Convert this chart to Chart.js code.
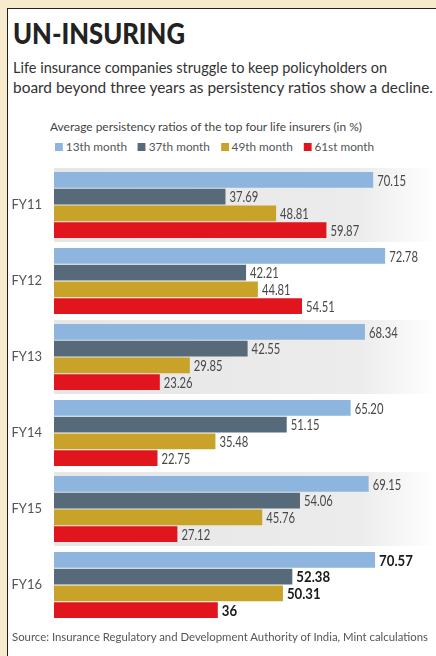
<!DOCTYPE html>
<html>
<head>
<meta charset="utf-8">
<script src="https://cdn.jsdelivr.net/npm/chart.js@4.4.1/dist/chart.umd.min.js"></script>
<style>
  body { margin: 0; width: 436px; height: 656px; background: #f6ebcd; position: relative; overflow: hidden;
         font-family: Lato, 'DejaVu Sans Condensed', sans-serif; }
  .panel { position: absolute; left: 7px; top: 8px; right: 0; bottom: 0; background: #fff;
           border-top: 1px solid #222; border-left: 1px solid #222; }
  .fit { position: absolute; white-space: nowrap; transform-origin: 0 0; line-height: 1; }
  #title { left: 13px; top: 19px; font-size: 28px; font-weight: 900; color: #222; }
  #sub1 { left: 13px; top: 59px; font-size: 16px; color: #333; }
  #sub2 { left: 13px; top: 79px; font-size: 16px; color: #333; }
  #cap { left: 50px; top: 121px; font-size: 12px; color: #444; }
  #legend { left: 55px; top: 141px; font-size: 12px; color: #555; }
  #legend span { display: inline-block; margin-right: 11px; }
  #legend i { display: inline-block; width: 8px; height: 8px; margin-right: 3px; vertical-align: 0px; }
  #src { left: 12px; top: 631px; font-size: 11.5px; color: #555; }
  canvas { position: absolute; left: 0; top: 155px; }
</style>
</head>
<body>
<div class="panel"></div>
<div class="fit" id="title" data-w="172">UN-INSURING</div>
<div class="fit" id="sub1" data-w="374">Life insurance companies struggle to keep policyholders on</div>
<div class="fit" id="sub2" data-w="420">board beyond three years as persistency ratios show a decline.</div>
<div class="fit" id="cap" data-w="312">Average persistency ratios of the top four life insurers (in %)</div>
<div class="fit" id="legend" data-w="330"></div>
<canvas id="chart" width="436" height="480"></canvas>
<div class="fit" id="src" data-w="416">Source: Insurance Regulatory and Development Authority of India, Mint calculations</div>
<script>
var years = ['FY11', 'FY12', 'FY13', 'FY14', 'FY15', 'FY16'];
var seriesNames = ['13th month', '37th month', '49th month', '61st month'];
var month13 = [70.15, 72.78, 68.34, 65.20, 69.15, 70.57];
var month37 = [37.69, 42.21, 42.55, 51.15, 54.06, 52.38];
var month49 = [48.81, 44.81, 29.85, 35.48, 45.76, 50.31];
var month61 = [59.87, 54.51, 23.26, 22.75, 27.12, 36];

var colors = ['#8db5dd', '#566a79', '#c9a22a', '#e1151d'];
var fontFam = "Lato, 'DejaVu Sans Condensed', sans-serif";

// legend
document.getElementById('legend').innerHTML = seriesNames.map(function(n, i) {
    return '<span><i style="background:' + colors[i] + '"></i>' + n + '</span>';
}).join('');

// squeeze text lines to the width they have in the print (condensed face)
document.querySelectorAll('.fit').forEach(function(el) {
    var w = el.getBoundingClientRect().width;
    el.style.transform = 'scaleX(' + (el.getAttribute('data-w') / w) + ')';
});

function fmt(v) {
    return Number.isInteger(v) ? String(v) : v.toFixed(2);
}

// grey bands behind every other year
var bands = {
    id: 'bands',
    beforeDatasetsDraw: function(chart) {
        var ctx = chart.ctx, y = chart.scales.y, area = chart.chartArea;
        var half = (y.getPixelForValue(1) - y.getPixelForValue(0)) / 2;
        var g = ctx.createLinearGradient(area.left, 0, chart.width, 0);
        g.addColorStop(0, '#e6e6e6');
        g.addColorStop(0.8, '#ececec');
        g.addColorStop(1, '#ffffff');
        ctx.save();
        ctx.fillStyle = g;
        years.forEach(function(yr, i) {
            if (i % 2 == 0) {
                var c = y.getPixelForValue(i);
                ctx.fillRect(area.left, c - half + 1, chart.width - area.left, half * 2 - 2);
            }
        });
        ctx.restore();
    }
};

// value labels at bar ends
var valueLabels = {
    id: 'valueLabels',
    afterDatasetsDraw: function(chart) {
        var ctx = chart.ctx;
        chart.data.datasets.forEach(function(ds, di) {
            chart.getDatasetMeta(di).data.forEach(function(bar, i) {
                var last = i == years.length - 1;
                ctx.save();
                ctx.textBaseline = 'middle';
                ctx.textAlign = 'left';
                ctx.font = (last ? 'bold ' : '') + '15px ' + fontFam;
                ctx.fillStyle = last ? '#1a1a1a' : '#484848';
                ctx.translate(bar.x + 4, bar.y + 1);
                ctx.scale(last ? 0.88 : 0.75, 1);
                ctx.fillText(fmt(ds.data[i]), 0, 0);
                ctx.restore();
            });
        });
    }
};

var series = [month13, month37, month49, month61];

new Chart(document.getElementById('chart'), {
    type: 'bar',
    data: {
        labels: years,
        datasets: series.map(function(d, i) {
            return {
                label: seriesNames[i],
                data: d,
                backgroundColor: colors[i],
                borderWidth: 0,
                categoryPercentage: 0.88,
                barPercentage: 0.94
            };
        })
    },
    options: {
        indexAxis: 'y',
        responsive: false,
        animation: false,
        layout: { padding: { top: 12, bottom: 12, right: 18, left: 0 } },
        plugins: { legend: { display: false }, tooltip: { enabled: false } },
        scales: {
            x: { display: false, min: 0, max: 80 },
            y: {
                grid: { display: false },
                border: { display: false },
                ticks: { color: '#555', padding: 4, font: { family: fontFam, size: 13 } },
                afterFit: function(scale) { scale.width = 54; }
            }
        }
    },
    plugins: [bands, valueLabels]
});
</script>
</body>
</html>
